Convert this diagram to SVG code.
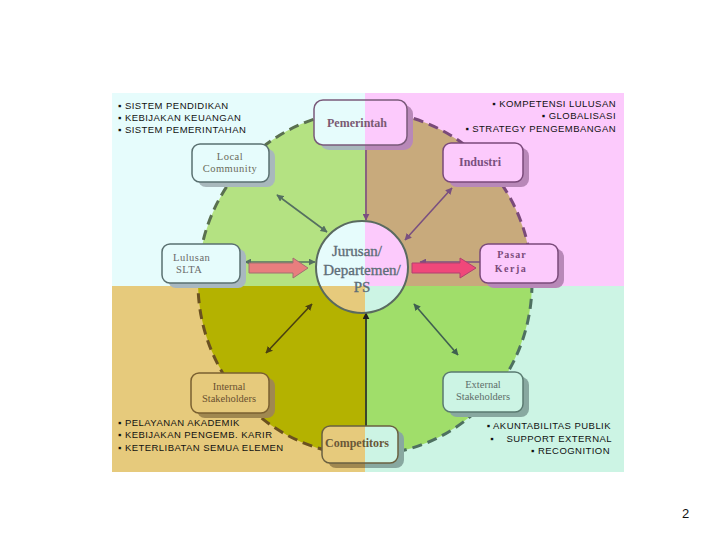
<svg xmlns="http://www.w3.org/2000/svg" width="720" height="540" viewBox="0 0 720 540">
<style>
.bul{font-family:"Liberation Sans",Arial,sans-serif;font-size:9.5px;letter-spacing:0.45px;fill:#111}
.lbl{font-family:"Liberation Serif","Times New Roman",serif;text-anchor:middle}
.b{font-weight:bold}
.c{fill:none;stroke-width:1.6}
.jur{font-size:15px;fill:#5e6e78;stroke:#5e6e78;stroke-width:0.35}
</style>
<defs>
<clipPath id="qTL"><rect x="0" y="0" width="365" height="286"/></clipPath>
<clipPath id="qTR"><rect x="365" y="0" width="355" height="286"/></clipPath>
<clipPath id="qBL"><rect x="0" y="286" width="365" height="254"/></clipPath>
<clipPath id="qBR"><rect x="365" y="286" width="355" height="254"/></clipPath>
<linearGradient id="gPem" gradientUnits="userSpaceOnUse" x1="314" y1="0" x2="407" y2="0"><stop offset="0.548" stop-color="#e6fcfc"/><stop offset="0.548" stop-color="#fccafc"/></linearGradient>
<linearGradient id="gPemS" gradientUnits="userSpaceOnUse" x1="320" y1="0" x2="413" y2="0"><stop offset="0.484" stop-color="#a8b8bc"/><stop offset="0.484" stop-color="#b888b8"/></linearGradient>
<linearGradient id="gCom" gradientUnits="userSpaceOnUse" x1="322" y1="0" x2="398" y2="0"><stop offset="0.566" stop-color="#e6ca7c"/><stop offset="0.566" stop-color="#ccf4e4"/></linearGradient>
<linearGradient id="gComS" gradientUnits="userSpaceOnUse" x1="328" y1="0" x2="404" y2="0"><stop offset="0.487" stop-color="#a08850"/><stop offset="0.487" stop-color="#88a8a0"/></linearGradient>
<marker id="mG" viewBox="0 0 10 10" refX="9" refY="5" markerWidth="7" markerHeight="7" markerUnits="userSpaceOnUse" orient="auto-start-reverse"><path d="M0,0L10,5L0,10z" fill="#557060"/></marker>
<marker id="mP" viewBox="0 0 10 10" refX="9" refY="5" markerWidth="7" markerHeight="7" markerUnits="userSpaceOnUse" orient="auto-start-reverse"><path d="M0,0L10,5L0,10z" fill="#7a5080"/></marker>
<marker id="mB" viewBox="0 0 10 10" refX="9" refY="5" markerWidth="7" markerHeight="7" markerUnits="userSpaceOnUse" orient="auto-start-reverse"><path d="M0,0L10,5L0,10z" fill="#4a4010"/></marker>
<marker id="mT" viewBox="0 0 10 10" refX="9" refY="5" markerWidth="7" markerHeight="7" markerUnits="userSpaceOnUse" orient="auto-start-reverse"><path d="M0,0L10,5L0,10z" fill="#406050"/></marker>
<marker id="mK" viewBox="0 0 10 10" refX="9" refY="5" markerWidth="7" markerHeight="7" markerUnits="userSpaceOnUse" orient="auto-start-reverse"><path d="M0,0L10,5L0,10z" fill="#202020"/></marker>
</defs>
<rect width="720" height="540" fill="#ffffff"/>
<g id="background">
<rect x="112" y="93" width="253" height="193" fill="#e6fcfc"/>
<rect x="365" y="93" width="259" height="193" fill="#fccafc"/>
<rect x="112" y="286" width="253" height="186" fill="#e6ca7c"/>
<rect x="365" y="286" width="259" height="186" fill="#ccf4e4"/>
</g>
<g id="big-circle">
<ellipse cx="365" cy="283" rx="167" ry="172" fill="#b4e282" clip-path="url(#qTL)"/>
<ellipse cx="365" cy="283" rx="167" ry="172" fill="#c8aa7c" clip-path="url(#qTR)"/>
<ellipse cx="365" cy="283" rx="167" ry="172" fill="#b4b200" clip-path="url(#qBL)"/>
<ellipse cx="365" cy="283" rx="167" ry="172" fill="#a0de6a" clip-path="url(#qBR)"/>
<g fill="none" stroke-width="3" stroke-dasharray="10,6">
<ellipse cx="365" cy="283" rx="167" ry="172" stroke="#5a7050" clip-path="url(#qTL)"/>
<ellipse cx="365" cy="283" rx="167" ry="172" stroke="#7a4a7a" clip-path="url(#qTR)"/>
<ellipse cx="365" cy="283" rx="167" ry="172" stroke="#6a5020" clip-path="url(#qBL)"/>
<ellipse cx="365" cy="283" rx="167" ry="172" stroke="#4e7060" clip-path="url(#qBR)"/>
</g>
</g>
<g id="connectors">
<line class="c" x1="277" y1="195" x2="327" y2="232" stroke="#557060" marker-start="url(#mG)" marker-end="url(#mG)"/>
<line class="c" x1="452" y1="188" x2="405" y2="240" stroke="#7a5080" marker-start="url(#mP)" marker-end="url(#mP)"/>
<line class="c" x1="366" y1="150" x2="366" y2="220" stroke="#7a5080" marker-end="url(#mP)"/>
<line class="c" x1="266" y1="353" x2="312" y2="304" stroke="#4a4010" marker-start="url(#mB)" marker-end="url(#mB)"/>
<line class="c" x1="414" y1="304" x2="458" y2="355" stroke="#406050" marker-start="url(#mT)" marker-end="url(#mT)"/>
<line class="c" x1="366" y1="426" x2="366" y2="313" stroke="#202020" marker-end="url(#mK)"/>
<line class="c" x1="245" y1="262" x2="315" y2="262" stroke="#557060" marker-start="url(#mG)" marker-end="url(#mG)"/>
<line class="c" x1="420" y1="262" x2="488" y2="262" stroke="#7a5080" marker-start="url(#mP)" marker-end="url(#mP)"/>
<polygon points="249,263 293,263 293,258 308,268 293,278 293,273 249,273" fill="#e87e7e" stroke="#a07070" stroke-width="1"/>
<polygon points="412,263 460,263 460,258 476,268 460,278 460,273 412,273" fill="#f0487a" stroke="#b04070" stroke-width="1"/>
</g>
<g id="center">
<circle cx="362" cy="267" r="46" fill="#e6fcfc" clip-path="url(#qTL)"/>
<circle cx="362" cy="267" r="46" fill="#fccafc" clip-path="url(#qTR)"/>
<circle cx="362" cy="267" r="46" fill="#e6ca7c" clip-path="url(#qBL)"/>
<circle cx="362" cy="267" r="46" fill="#ccf4e4" clip-path="url(#qBR)"/>
<circle cx="362" cy="267" r="46" fill="none" stroke="#5a6a60" stroke-width="2"/>
<text class="lbl jur" x="357" y="256">Jurusan/</text>
<text class="lbl jur" x="362" y="275">Departemen/</text>
<text class="lbl jur" x="362" y="292">PS</text>
</g>
<g id="node-pemerintah">
<rect x="320" y="105" width="93" height="45" rx="9" fill="url(#gPemS)"/>
<rect x="314" y="100" width="93" height="45" rx="9" fill="url(#gPem)" stroke="#7a5a7a" stroke-width="1.5"/>
<text class="lbl b" font-size="12" fill="#7a5a72" x="357" y="127">Pemerintah</text>
</g>
<g id="node-local-community">
<rect x="198" y="149" width="77" height="38" rx="8" fill="#a8b8bc"/>
<rect x="192" y="144" width="77" height="38" rx="8" fill="#e6fcfc" stroke="#5a7070" stroke-width="1.5"/>
<text class="lbl" font-size="10.5" letter-spacing="0.5" fill="#6a6a5a" x="230" y="160">Local</text>
<text class="lbl" font-size="10.5" letter-spacing="0.5" fill="#6a6a5a" x="230" y="172">Community</text>
</g>
<g id="node-industri">
<rect x="449" y="148" width="80" height="39" rx="8" fill="#b888b8"/>
<rect x="443" y="143" width="80" height="39" rx="8" fill="#fccafc" stroke="#7a4a7a" stroke-width="1.5"/>
<text class="lbl b" font-size="12" fill="#7a5080" x="480" y="166">Industri</text>
</g>
<g id="node-lulusan-slta">
<rect x="168" y="249" width="78" height="39" rx="8" fill="#a8b8c0"/>
<rect x="162" y="244" width="78" height="39" rx="8" fill="#e6fcfc" stroke="#5a7070" stroke-width="1.5"/>
<text font-family="Liberation Serif,serif" font-size="10.5" letter-spacing="0.5" fill="#6a6a6a" x="173" y="261">Lulusan</text>
<text font-family="Liberation Serif,serif" font-size="10.5" letter-spacing="0.5" fill="#6a6a6a" x="176" y="273">SLTA</text>
</g>
<g id="node-pasar-kerja">
<rect x="486" y="249" width="78" height="39" rx="8" fill="#b888b8"/>
<rect x="480" y="244" width="78" height="39" rx="8" fill="#fccafc" stroke="#7a4a7a" stroke-width="1.5"/>
<text class="lbl b" font-size="10" letter-spacing="1" fill="#7a4a7a" x="512" y="258">Pasar</text>
<text class="lbl b" font-size="10" letter-spacing="1.5" fill="#7a4a7a" x="511" y="272">Kerja</text>
</g>
<g id="node-internal-stakeholders">
<rect x="197" y="378" width="78" height="40" rx="8" fill="#a08850"/>
<rect x="191" y="373" width="78" height="40" rx="8" fill="#e6ca7c" stroke="#7a6030" stroke-width="1.5"/>
<text class="lbl" font-size="10.5" fill="#6a5030" x="229" y="390">Internal</text>
<text class="lbl" font-size="10.5" fill="#6a5030" x="229" y="402">Stakeholders</text>
</g>
<g id="node-external-stakeholders">
<rect x="449" y="377" width="80" height="40" rx="8" fill="#88a8a0"/>
<rect x="443" y="372" width="80" height="40" rx="8" fill="#ccf4e4" stroke="#5a7a70" stroke-width="1.5"/>
<text class="lbl" font-size="10.5" fill="#5e6e6a" x="483" y="388">External</text>
<text class="lbl" font-size="10.5" fill="#5e6e6a" x="483" y="400">Stakeholders</text>
</g>
<g id="node-competitors">
<rect x="328" y="431" width="76" height="37" rx="8" fill="url(#gComS)"/>
<rect x="322" y="426" width="76" height="37" rx="8" fill="url(#gCom)" stroke="#6a6040" stroke-width="1.5"/>
<text class="lbl b" font-size="12" fill="#6a5838" x="357" y="447">Competitors</text>
</g>
<g id="notes">
<text class="bul" x="118" y="109">▪ SISTEM PENDIDIKAN</text>
<text class="bul" x="118" y="121">▪ KEBIJAKAN KEUANGAN</text>
<text class="bul" x="118" y="133">▪ SISTEM PEMERINTAHAN</text>
<text class="bul" text-anchor="end" x="616" y="107">▪ KOMPETENSI LULUSAN</text>
<text class="bul" text-anchor="end" x="616" y="119">▪ GLOBALISASI</text>
<text class="bul" text-anchor="end" x="616" y="132">▪ STRATEGY PENGEMBANGAN</text>
<text class="bul" x="118" y="426">▪ PELAYANAN AKADEMIK</text>
<text class="bul" x="118" y="438">▪ KEBIJAKAN PENGEMB. KARIR</text>
<text class="bul" x="118" y="451">▪ KETERLIBATAN SEMUA ELEMEN</text>
<text class="bul" text-anchor="end" x="611" y="429">▪ AKUNTABILITAS PUBLIK</text>
<text class="bul" text-anchor="end" x="612" y="442" xml:space="preserve">▪    SUPPORT EXTERNAL</text>
<text class="bul" text-anchor="end" x="610" y="454">▪ RECOGNITION</text>
<text font-family="Liberation Sans,Arial,sans-serif" font-size="13" fill="#111" x="682" y="518">2</text>
</g>
</svg>
